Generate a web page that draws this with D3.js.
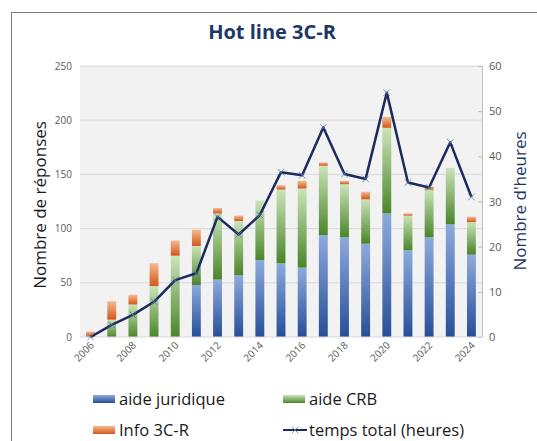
<!DOCTYPE html>
<html>
<head>
<script src="https://d3js.org/d3.v7.min.js"></script>
<style>
  body { margin: 0; background: #fff; }
  text { font-family: "Open Sans", sans-serif; }
</style>
</head>
<body>
<div id="chart"></div>
<script>
// data
var years = [2006, 2007, 2008, 2009, 2010, 2011, 2012, 2013, 2014, 2015,
             2016, 2017, 2018, 2019, 2020, 2021, 2022, 2023, 2024];
var aideJuridique = [0, 0, 0, 0, 0, 48, 53, 57, 71, 68, 64, 94, 92, 86, 114, 80, 92, 104, 76];
var aideCRB = [0, 16, 30, 47, 75, 36, 61, 50, 55, 68, 73, 64, 49, 41, 79, 32, 44, 52, 30];
var info3CR = [5, 17, 9, 21, 14, 15, 5, 5, 0, 4, 7, 3, 3, 7, 10, 2, 3, 0, 5];
var heures = [0, 2.7, 4.9, 7.8, 12.6, 14.1, 26.6, 22.7, 27, 36.5, 35.8, 46.4, 36.1, 35, 54.1, 34.2, 33.1, 43.1, 31];
var leftTicks = [0, 50, 100, 150, 200, 250];
var rightTicks = [0, 10, 20, 30, 40, 50, 60];
var yearLabels = [2006, 2008, 2010, 2012, 2014, 2016, 2018, 2020, 2022, 2024];

var W = 537, H = 441;
var margin = {top: 66, right: 55, bottom: 104, left: 80};
var width = W - margin.left - margin.right;
var height = H - margin.top - margin.bottom;

var svg = d3.select("#chart").append("svg")
    .attr("width", W)
    .attr("height", H);

// gradients
var defs = svg.append("defs");
function grad(id, bottom, top) {
  var g = defs.append("linearGradient").attr("id", id)
      .attr("x1", 0).attr("y1", 1).attr("x2", 0).attr("y2", 0);
  g.append("stop").attr("offset", "0%").attr("stop-color", bottom);
  g.append("stop").attr("offset", "100%").attr("stop-color", top);
}
grad("gBlue", "#264E98", "#8EAADC");
grad("gGreen", "#4A8529", "#CAE4B9");
grad("gOrange", "#D2581A", "#F6B990");

// outer frame
svg.append("rect")
    .attr("x", 11.5).attr("y", 12.5)
    .attr("width", W).attr("height", H)
    .attr("fill", "none").attr("stroke", "#7f7f7f").attr("stroke-width", 1);

svg.append("text")
    .attr("x", 272).attr("y", 39)
    .attr("text-anchor", "middle")
    .attr("font-size", 20).attr("font-weight", "bold")
    .attr("fill", "#203864")
    .text("Hot line 3C-R");

var g = svg.append("g")
    .attr("transform", "translate(" + margin.left + "," + margin.top + ")");

g.append("rect")
    .attr("width", width).attr("height", height)
    .attr("fill", "#f2f2f2");

var x = d3.scaleBand().domain(years).range([0, width]).paddingInner(0.58).paddingOuter(0.29);
var y = d3.scaleLinear().domain([0, 250]).range([height, 0]);
var y2 = d3.scaleLinear().domain([0, 60]).range([height, 0]);

// gridlines
g.selectAll(".grid").data(leftTicks.slice(1)).enter().append("line")
    .attr("x1", 0).attr("x2", width)
    .attr("y1", d => y(d)).attr("y2", d => y(d))
    .attr("stroke", "#d9d9d9").attr("stroke-width", 1);

// stacked bars
var table = years.map(function (yr, i) {
  return {year: yr, jur: aideJuridique[i], crb: aideCRB[i], info: info3CR[i]};
});
var stack = d3.stack().keys(["jur", "crb", "info"])(table);
var fills = {jur: "url(#gBlue)", crb: "url(#gGreen)", info: "url(#gOrange)"};

stack.forEach(function (layer) {
  g.append("g").selectAll("rect")
    .data(layer.filter(d => d[1] > d[0]))
    .enter().append("rect")
      .attr("x", d => x(d.data.year))
      .attr("y", d => y(d[1]))
      .attr("width", x.bandwidth())
      .attr("height", d => y(d[0]) - y(d[1]))
      .attr("fill", fills[layer.key]);
});

// x axis line
g.append("line")
    .attr("x1", 0).attr("x2", width)
    .attr("y1", height).attr("y2", height)
    .attr("stroke", "#d9d9d9");

// left axis labels
g.selectAll(".ly").data(leftTicks).enter().append("text")
    .attr("x", -8).attr("y", d => y(d) + 3.5)
    .attr("text-anchor", "end")
    .attr("font-size", 10).attr("fill", "#595959")
    .text(d => d);

// right axis
g.append("line")
    .attr("x1", width + 0.5).attr("x2", width + 0.5)
    .attr("y1", 0).attr("y2", height)
    .attr("stroke", "#bfbfbf");
g.selectAll(".rt").data(rightTicks).enter().append("line")
    .attr("x1", width - 4).attr("x2", width)
    .attr("y1", d => y2(d) + 0.5).attr("y2", d => y2(d) + 0.5)
    .attr("stroke", "#bfbfbf");
g.selectAll(".ry").data(rightTicks).enter().append("text")
    .attr("x", width + 7).attr("y", d => y2(d) + 4)
    .attr("font-size", 11).attr("fill", "#595959")
    .text(d => d);

// x labels
g.selectAll(".xl").data(yearLabels).enter().append("text")
    .attr("transform", d => "translate(" + (x(d) + x.bandwidth() / 2 + 4) + "," + (height + 9) + ") rotate(-45)")
    .attr("text-anchor", "end")
    .attr("font-size", 10).attr("fill", "#595959")
    .text(d => d);

// line (hours)
var lineData = years.map((yr, i) => ({year: yr, h: heures[i]}));
var line = d3.line()
    .x(d => x(d.year) + x.bandwidth() / 2)
    .y(d => y2(d.h));
g.append("path").datum(lineData)
    .attr("d", line)
    .attr("fill", "none")
    .attr("stroke", "#1c2a5e")
    .attr("stroke-width", 2.5)
    .attr("stroke-linejoin", "round");

var cross = d3.symbol().type(d3.symbolTimes).size(30);
g.selectAll(".mk").data(lineData).enter().append("path")
    .attr("transform", d => "translate(" + (x(d.year) + x.bandwidth() / 2) + "," + y2(d.h) + ")")
    .attr("d", cross)
    .attr("fill", "none")
    .attr("stroke", "#5a78a8")
    .attr("stroke-width", 0.8);

// axis titles
svg.append("text")
    .attr("transform", "translate(46,205) rotate(-90)")
    .attr("text-anchor", "middle")
    .attr("font-size", 17).attr("fill", "#1a1a1a")
    .text("Nombre de réponses");
svg.append("text")
    .attr("transform", "translate(526,201) rotate(-90)")
    .attr("text-anchor", "middle")
    .attr("font-size", 17).attr("fill", "#203864")
    .text("Nombre d'heures");

// legend
var legend = [
  {label: "aide juridique", fill: "url(#gBlue)", x: 93, y: 399},
  {label: "aide CRB", fill: "url(#gGreen)", x: 283, y: 399},
  {label: "Info 3C-R", fill: "url(#gOrange)", x: 93, y: 430},
  {label: "temps total (heures)", line: true, x: 283, y: 430}
];
var lg = svg.append("g").selectAll("g").data(legend).enter().append("g")
    .attr("transform", d => "translate(" + d.x + "," + d.y + ")");
lg.filter(d => !d.line).append("rect")
    .attr("x", 0).attr("y", -4).attr("width", 22).attr("height", 8)
    .attr("fill", d => d.fill);
lg.filter(d => d.line).append("line")
    .attr("x1", 0).attr("x2", 24).attr("y1", 0).attr("y2", 0)
    .attr("stroke", "#1c2a5e").attr("stroke-width", 2);
lg.filter(d => d.line).append("path")
    .attr("transform", "translate(12,0)")
    .attr("d", cross)
    .attr("fill", "none").attr("stroke", "#5a78a8").attr("stroke-width", 0.8);
lg.append("text")
    .attr("x", 26).attr("y", 6)
    .attr("font-size", 16.5).attr("fill", "#1a1a1a")
    .text(d => d.label);
</script>
</body>
</html>
